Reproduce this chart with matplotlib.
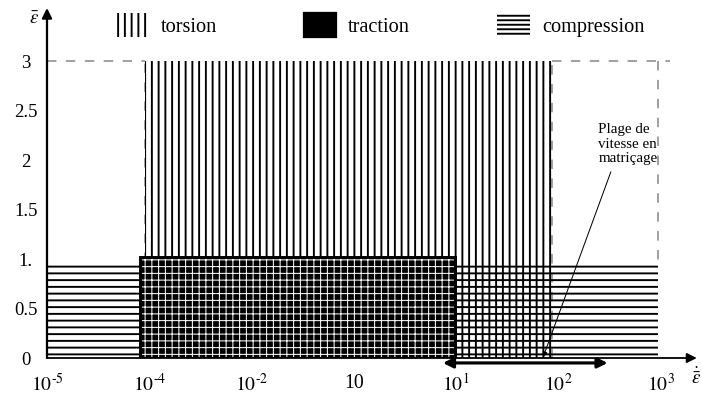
import matplotlib
matplotlib.use("Agg")
import matplotlib.pyplot as plt
from matplotlib.patches import Rectangle, Patch

# ---- data ----
# x positions are evenly spaced tick slots; labels as printed on the original
xtick_pos = [0, 1, 2, 3, 4, 5, 6]
xtick_labels = [r'$10^{\text{-}5}$', r'$10^{\text{-}4}$', r'$10^{\text{-}2}$', '10',
                r'$10^{1}$', r'$10^{2}$', r'$10^{3}$']
ytick_pos = [0, 0.5, 1, 1.5, 2, 2.5, 3]
ytick_labels = ['0', '0.5', '1.', '1.5', '2', '2.5', '3']

# regions: (x_start, x_end, y_max)
torsion = (0.96, 4.94, 3.0)
traction = (0.91, 3.99, 1.02)
compression = (0.0, 5.97, 0.97)
# range of strain rates in die forging (double arrow)
forging_range = (3.87, 5.48)

DPI = 81
plt.rcParams['font.family'] = ['Liberation Serif', 'DejaVu Serif']
plt.rcParams['mathtext.fontset'] = 'stix'
plt.rcParams['hatch.linewidth'] = 1.7

fig = plt.figure(figsize=(702 / DPI, 396 / DPI), dpi=DPI)
W, H = 702, 396
ax_left, ax_right, ax_bottom, ax_top = 47, 702, 358, 5
ax = fig.add_axes([ax_left / W, (H - ax_bottom) / H,
                   (ax_right - ax_left) / W, (ax_bottom - ax_top) / H])
ax.set_xlim(0, (ax_right - ax_left) / 102.3)
ax.set_ylim(0, (ax_bottom - ax_top) / 99.0)
for s in ax.spines.values():
    s.set_visible(False)

# compression (horizontal lines)
ax.add_patch(Rectangle((compression[0], 0), compression[1] - compression[0], compression[2],
                       facecolor='none', edgecolor='black', linewidth=0, hatch='--', zorder=2))
# torsion (vertical lines)
ax.add_patch(Rectangle((torsion[0], 0), torsion[1] - torsion[0], torsion[2],
                       facecolor='none', edgecolor='black', linewidth=0, hatch='||', zorder=2))
# traction (black with white grid)
with plt.rc_context({'hatch.linewidth': 0.9}):
    ax.add_patch(Rectangle((traction[0], 0), traction[1] - traction[0], traction[2],
                           facecolor='black', edgecolor='white', linewidth=0, hatch='++', zorder=3))
ax.add_patch(Rectangle((traction[0], 0), traction[1] - traction[0], traction[2],
                       facecolor='none', edgecolor='black', linewidth=2.6, zorder=4))

# dashed outline of the torsion domain
dash = dict(color='#8a8a8a', linestyle=(0, (6, 6)), linewidth=1.4, zorder=1)
ax.plot([0, torsion[0]], [torsion[2], torsion[2]], **dash)
ax.plot([torsion[1], compression[1] + 0.12], [torsion[2], torsion[2]], **dash)
ax.plot([compression[1], compression[1]], [torsion[2], compression[2]], **dash)
ax.plot([torsion[0], torsion[0]], [compression[2], torsion[2]], **dash)
ax.plot([torsion[1], torsion[1]], [0, torsion[2]], **dash)

# axes with arrows
ax.annotate('', xy=(0.992, 0), xycoords=('axes fraction', 'data'),
            xytext=(0, 0), textcoords=('axes fraction', 'data'),
            arrowprops=dict(arrowstyle='-|>', color='black', lw=1.6, mutation_scale=18,
                            shrinkA=0, shrinkB=0), annotation_clip=False, zorder=5)
ax.annotate('', xy=(0, 0.9915), xycoords=('data', 'axes fraction'),
            xytext=(0, 0), textcoords=('data', 'axes fraction'),
            arrowprops=dict(arrowstyle='-|>', color='black', lw=2.0, mutation_scale=18,
                            shrinkA=0, shrinkB=0), annotation_clip=False, zorder=5)

# double arrow: forging range
ax.annotate('', xy=(forging_range[0], -0.05), xytext=(forging_range[1], -0.05),
            arrowprops=dict(arrowstyle='<|-|>', color='black', lw=2.8, mutation_scale=18,
                            shrinkA=0, shrinkB=0), annotation_clip=False, zorder=6)

# annotation
ax.annotate('Plage de\nvitesse en\nmatriçage', xy=(4.85, 0.01), xytext=(5.39, 2.37),
            ha='left', va='top', fontsize=13.3, linespacing=1.15, multialignment='left',
            arrowprops=dict(arrowstyle='-|>', color='black', lw=0.9, mutation_scale=9,
                            shrinkA=4, shrinkB=0, relpos=(0.25, 0)), zorder=6)

# ticks
ax.set_xticks(xtick_pos, xtick_labels)
ax.set_yticks(ytick_pos, ytick_labels)
ax.tick_params(axis='x', length=0, pad=14, labelsize=17.5)
ax.tick_params(axis='y', length=0, pad=19, labelsize=16.5)
for lab in ax.get_yticklabels():
    lab.set_horizontalalignment('center')

# axis symbols
fig.text(34 / W, 1 - 20 / H, r'$\bar{\varepsilon}$', fontsize=17, ha='center', va='center')
fig.text(701 / W, 1 - 378 / H, r'$\dot{\bar{\varepsilon}}$', fontsize=17, ha='right', va='center')

# legend
handles = [Patch(facecolor='white', edgecolor='black', linewidth=0, hatch='||'),
           Patch(facecolor='black', edgecolor='black', linewidth=2),
           Patch(facecolor='white', edgecolor='black', linewidth=0, hatch='---')]
fig.legend(handles, ['torsion', 'traction', 'compression'], ncol=3, frameon=False,
           loc='center', bbox_to_anchor=(380 / W, 1 - 25 / H), fontsize=18,
           handlelength=1.6, handleheight=1.4, handletextpad=0.6, columnspacing=4.3)

fig.savefig('out.png', dpi=DPI)
